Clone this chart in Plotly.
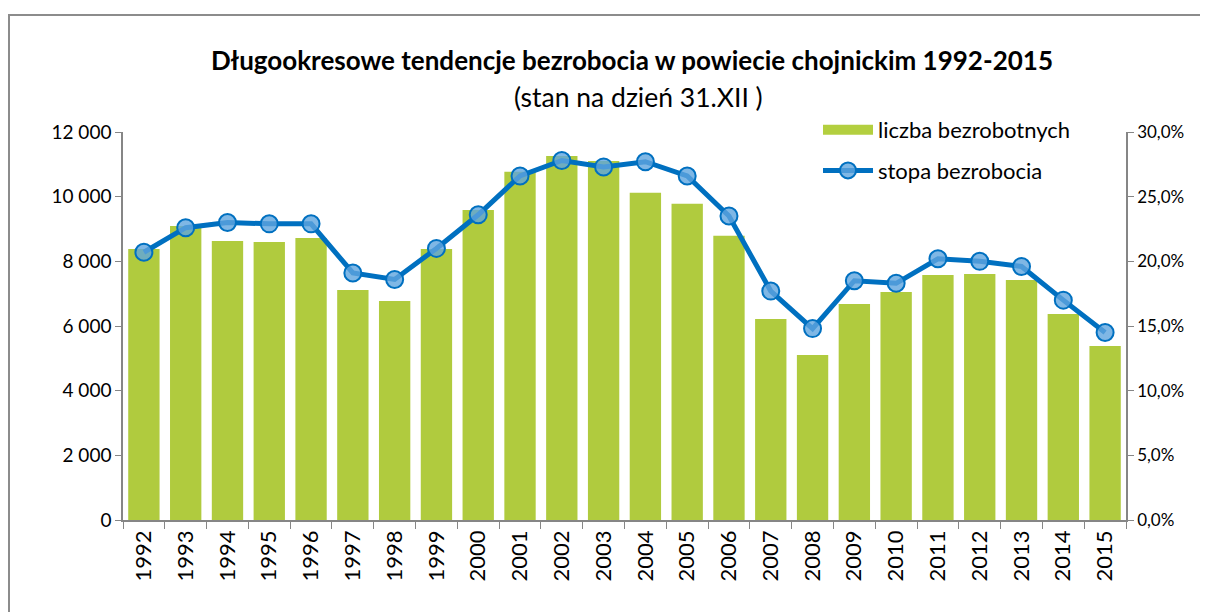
import plotly.graph_objects as go

years = [str(y) for y in range(1992, 2016)]
liczba_bezrobotnych = [8380, 9090, 8630, 8600, 8720, 7110, 6770, 8380, 9590, 10770,
                       11260, 11100, 10120, 9780, 8790, 6220, 5100, 6680, 7050, 7580,
                       7610, 7420, 6370, 5380]
stopa_bezrobocia = [0.207, 0.226, 0.230, 0.229, 0.229, 0.191, 0.186, 0.210, 0.236, 0.266,
                    0.278, 0.273, 0.277, 0.266, 0.235, 0.177, 0.148, 0.185, 0.183, 0.202,
                    0.200, 0.196, 0.170, 0.145]
left_ticks = [0, 2000, 4000, 6000, 8000, 10000, 12000]
right_ticks = [0, 0.05, 0.10, 0.15, 0.20, 0.25, 0.30]

FONT = "Lato"
AX = "#868686"

fig = go.Figure()
fig.add_trace(go.Bar(
    x=years, y=liczba_bezrobotnych, name="liczba bezrobotnych",
    marker=dict(color="#b0cb3e", line=dict(width=0)),
    showlegend=False, yaxis="y",
))
# legend proxy for bars (wide block like the original)
fig.add_trace(go.Scatter(
    x=[None], y=[None], mode="lines", name="liczba bezrobotnych",
    line=dict(color="#b3cf3f", width=14), legendgroup="a", yaxis="y",
))
fig.add_trace(go.Scatter(
    x=years, y=stopa_bezrobocia, name="stopa bezrobocia", mode="lines+markers",
    line=dict(color="#0070c0", width=5),
    marker=dict(size=17, color="rgba(95,165,222,0.8)", line=dict(color="#0070c0", width=2)),
    yaxis="y2", legendgroup="b",
))

fig.update_layout(
    width=1208, height=612,
    margin=dict(l=115, r=90, t=124, b=100, autoexpand=False),
    paper_bgcolor="white", plot_bgcolor="white",
    separators=", ",
    font=dict(family=FONT, size=18, color="#000000"),
    bargap=0.25,
    showlegend=True,
    legend=dict(x=(818 - 123) / 1003, y=(520 - 109) / 388, xanchor="left", yanchor="top",
                font=dict(family=FONT, size=22), tracegroupgap=9,
                bgcolor="rgba(0,0,0,0)", itemwidth=50),
    xaxis=dict(type="category", range=[-0.5, len(years) - 0.5],
               showline=True, linecolor=AX, linewidth=1.5,
               ticks="outside", tickson="boundaries", ticklen=7, tickcolor=AX,
               tickangle=-90, tickfont=dict(family=FONT, size=22),
               showgrid=False, zeroline=False, automargin=False),
    yaxis=dict(range=[0, 12000], tickvals=left_ticks, tickformat=",.0f",
               showline=True, linecolor=AX, linewidth=1.5, ticks="outside",
               ticklen=6, tickcolor=AX, showgrid=False, zeroline=False,
               tickfont=dict(family=FONT, size=19), automargin=False),
    yaxis2=dict(range=[0, 0.30], tickvals=right_ticks, tickformat=".1%",
                overlaying="y", side="right", showline=True, linecolor=AX,
                linewidth=1.5, ticks="outside", ticklen=6, tickcolor=AX,
                showgrid=False, zeroline=False, tickfont=dict(family=FONT, size=17),
                automargin=False),
)

# outer chart frame (continues beyond right/bottom edge)
fig.add_shape(type="rect", xref="paper", yref="paper",
              x0=(9 - 123) / 1003, x1=(1260 - 123) / 1003,
              y0=(520 - 660) / 388, y1=(520 - 15) / 388,
              line=dict(color="#8c8c8c", width=2), fillcolor="rgba(0,0,0,0)", layer="below")

fig.add_annotation(text="<b>Długookresowe tendencje bezrobocia w powiecie chojnickim 1992-2015</b>",
                   xref="paper", yref="paper", x=(632 - 123) / 1003, y=(520 - 60) / 388,
                   showarrow=False, font=dict(family=FONT, size=26), xanchor="center", yanchor="middle")
fig.add_annotation(text="(stan na dzień 31.XII )",
                   xref="paper", yref="paper", x=(638 - 123) / 1003, y=(520 - 97) / 388,
                   showarrow=False, font=dict(family=FONT, size=26.5), xanchor="center", yanchor="middle")
# partially visible caption at the very top edge
fig.add_annotation(text="(stan na dzień 31.XII )",
                   xref="paper", yref="paper", x=(-2 - 123) / 1003, y=(520 + 8) / 388,
                   showarrow=False, font=dict(family=FONT, size=25), xanchor="left", yanchor="middle")

fig.write_html("out.html")
